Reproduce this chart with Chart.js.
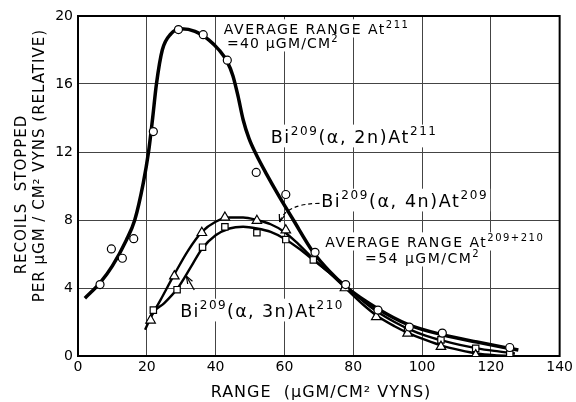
<!DOCTYPE html>
<html>
<head>
<meta charset="utf-8">
<script src="https://cdn.jsdelivr.net/npm/chart.js@4.4.1/dist/chart.umd.min.js"></script>
<style>
  html, body { margin: 0; padding: 0; background: #fff; }
  #c { display: block; }
</style>
</head>
<body>
<canvas id="c" width="576" height="402"></canvas>
<script>
var x2n = [6.4, 9.7, 12.9, 16.2, 21.9, 29.2, 36.4, 43.4, 51.8, 60.4, 68.9, 77.8, 87.2, 96.3, 105.9, 125.5];
var y2n = [4.2, 6.3, 5.75, 6.9, 13.2, 19.2, 18.9, 17.4, 10.8, 9.5, 6.1, 4.2, 2.7, 1.7, 1.35, 0.5];

var x4n = [21.1, 28.0, 36.0, 42.7, 52.0, 60.4, 77.6, 86.7, 95.8, 105.5, 115.6];
var y4n = [2.1, 4.7, 7.25, 8.15, 7.96, 7.4, 4.0, 2.3, 1.33, 0.55, 0.05];

var x3n = [21.9, 28.8, 36.2, 42.7, 52.0, 60.4, 68.4, 77.6, 95.8, 105.5, 115.6, 125.5];
var y3n = [2.7, 3.9, 6.4, 7.6, 7.25, 6.85, 5.65, 4.1, 1.5, 0.95, 0.45, 0.12];

// hand-drawn fitted curves
var cx2n = [2, 6.4, 10, 14, 16.5, 19, 20.5, 21.7, 22.8, 24.5, 27, 30, 34, 38, 41, 43.4, 45, 46.5, 48, 49.7, 51.8, 54.8, 58.3, 62.6, 68.4, 73, 77.7, 87, 96, 106, 116, 128];
var cy2n = [3.4, 4.3, 5.3, 6.8, 8, 10.2, 12, 14, 16, 18, 18.95, 19.25, 19.1, 18.6, 18.0, 17.3, 16.5, 15.3, 13.9, 12.8, 11.85, 10.7, 9.45, 8.0, 6.1, 5.0, 4.1, 2.8, 1.85, 1.25, 0.82, 0.35];

var cx4n = [19.5, 21, 24, 28, 32, 36, 40, 44, 48, 52, 56, 60, 64, 69, 73, 78, 83, 87, 92, 96, 101, 106, 111, 116, 121, 127];
var cy4n = [1.55, 2.2, 3.3, 4.8, 6.2, 7.3, 7.9, 8.15, 8.15, 8.0, 7.75, 7.3, 6.6, 5.6, 4.9, 3.95, 3.0, 2.35, 1.75, 1.35, 0.95, 0.6, 0.35, 0.15, 0.05, 0.0];

var cx3n = [20.3, 22, 25, 29, 33, 36, 40, 44, 48, 52, 56, 60, 64, 69, 74, 78, 83, 87, 92, 96, 101, 106, 111, 116, 121, 127];
var cy3n = [2.0, 2.6, 3.1, 4.0, 5.3, 6.3, 7.1, 7.5, 7.6, 7.5, 7.3, 6.9, 6.35, 5.55, 4.75, 4.1, 3.2, 2.6, 2.0, 1.6, 1.2, 0.9, 0.65, 0.45, 0.3, 0.15];

var xTicks = [0, 20, 40, 60, 80, 100, 120, 140];
var yTicks = [0, 4, 8, 12, 16, 20];

function pts(xs, ys) {
  return xs.map(function (x, i) { return { x: x, y: ys[i] }; });
}

var FONT = '"DejaVu Sans", sans-serif';

function curve(xs, ys, w) {
  return {
    type: 'line',
    data: pts(xs, ys),
    borderColor: '#000',
    borderWidth: w,
    pointRadius: 0,
    fill: false,
    cubicInterpolationMode: 'monotone',
    order: 2
  };
}

function marks(xs, ys, style, r) {
  return {
    type: 'scatter',
    data: pts(xs, ys),
    pointStyle: style,
    pointRadius: r,
    pointBackgroundColor: '#fff',
    pointBorderColor: '#000',
    pointBorderWidth: 1.2,
    showLine: false,
    order: 1
  };
}

// text with superscripts: parts = [[text, isSup], ...]
function rich(ctx, parts, x, y, size, spacing) {
  ctx.letterSpacing = spacing + 'px';
  parts.forEach(function (p) {
    var s = p[1] ? Math.round(size * 0.68) : size;
    ctx.font = s + 'px ' + FONT;
    ctx.fillText(p[0], x, p[1] ? y - size * 0.45 : y);
    x += ctx.measureText(p[0]).width;
  });
  return x;
}

function richWidth(ctx, parts, size, spacing) {
  ctx.letterSpacing = spacing + 'px';
  var w = 0;
  parts.forEach(function (p) {
    var s = p[1] ? Math.round(size * 0.68) : size;
    ctx.font = s + 'px ' + FONT;
    w += ctx.measureText(p[0]).width;
  });
  return w;
}

function arrowHead(ctx, x0, y0, x1, y1, len) {
  var a = Math.atan2(y1 - y0, x1 - x0);
  ctx.beginPath();
  ctx.moveTo(x1, y1);
  ctx.lineTo(x1 - len * Math.cos(a - 0.35), y1 - len * Math.sin(a - 0.35));
  ctx.moveTo(x1, y1);
  ctx.lineTo(x1 - len * Math.cos(a + 0.35), y1 - len * Math.sin(a + 0.35));
  ctx.stroke();
}

var labels = [
  // [x, y, parts, size, spacing]
  [42.4, 18.94, [['AVERAGE RANGE At', 0], ['211', 1]], 14, 1.5],
  [43.3, 18.12, [['=40 μGM/CM', 0], ['2', 1]], 14, 1.2],
  [56.0, 12.53, [['Bi', 0], ['209', 1], ['(α, 2n)At', 0], ['211', 1]], 17.5, 1.6],
  [70.7, 8.76, [['Bi', 0], ['209', 1], ['(α, 4n)At', 0], ['209', 1]], 17.5, 1.6],
  [71.9, 6.41, [['AVERAGE RANGE At', 0], ['209+210', 1]], 14, 1.5],
  [83.4, 5.47, [['=54 μGM/CM', 0], ['2', 1]], 14, 1.5],
  [29.7, 2.29, [['Bi', 0], ['209', 1], ['(α, 3n)At', 0], ['210', 1]], 17.5, 1.4]
];

var notes = {
  id: 'notes',
  beforeDatasetsDraw: function (chart) {
    var ctx = chart.ctx, xs = chart.scales.x, ys = chart.scales.y, a = chart.chartArea;
    ctx.save();
    ctx.textBaseline = 'alphabetic';
    ctx.textAlign = 'left';
    labels.forEach(function (l) {
      var px = xs.getPixelForValue(l[0]), py = ys.getPixelForValue(l[1]);
      var w = richWidth(ctx, l[2], l[3], l[4]);
      ctx.fillStyle = '#fff';
      ctx.fillRect(px - 2, py - l[3] * 1.05, w + 4, l[3] * 1.3);
    });
    ctx.fillStyle = '#000';
    labels.forEach(function (l) {
      rich(ctx, l[2], xs.getPixelForValue(l[0]), ys.getPixelForValue(l[1]), l[3], l[4]);
    });
    ctx.letterSpacing = '0px';

    // frame
    ctx.strokeStyle = '#000';
    ctx.lineWidth = 2;
    ctx.strokeRect(a.left, a.top, a.right - a.left, a.bottom - a.top);
    ctx.restore();
  },
  afterDatasetsDraw: function (chart) {
    var ctx = chart.ctx, xs = chart.scales.x, ys = chart.scales.y;
    function P(x, y) { return [xs.getPixelForValue(x), ys.getPixelForValue(y)]; }
    ctx.save();
    ctx.strokeStyle = '#000';
    ctx.lineWidth = 1.2;
    // dashed pointer for (a,4n)
    var s = P(70.2, 8.98), c = P(60.3, 8.95), e = P(58.6, 7.88);
    ctx.setLineDash([4, 3]);
    ctx.beginPath();
    ctx.moveTo(s[0], s[1]);
    ctx.quadraticCurveTo(c[0], c[1], e[0], e[1]);
    ctx.stroke();
    ctx.setLineDash([]);
    arrowHead(ctx, c[0], c[1], e[0], e[1], 8);
    // pointer for (a,3n)
    var t = P(33.8, 3.88), h = P(31.5, 4.7);
    ctx.beginPath();
    ctx.moveTo(t[0], t[1]);
    ctx.lineTo(h[0], h[1]);
    ctx.stroke();
    arrowHead(ctx, t[0], t[1], h[0], h[1], 8);

    // axis titles
    var a = chart.chartArea;
    ctx.fillStyle = '#000';
    ctx.textAlign = 'center';
    ctx.textBaseline = 'middle';
    ctx.font = '16px ' + FONT;
    ctx.letterSpacing = '1px';
    ctx.fillText('RANGE  (μGM/CM² VYNS)', 321, a.bottom + 37);
    ctx.font = '15px ' + FONT;
    ctx.save();
    ctx.translate(a.left - 56, ys.getPixelForValue(9.5));
    ctx.rotate(-Math.PI / 2);
    ctx.fillText('RECOILS  STOPPED', 0, 0);
    ctx.restore();
    ctx.save();
    ctx.translate(a.left - 38, ys.getPixelForValue(11.2));
    ctx.rotate(-Math.PI / 2);
    ctx.fillText('PER μGM / CM² VYNS (RELATIVE)', 0, 0);
    ctx.restore();
    ctx.restore();
  }
};

new Chart(document.getElementById('c').getContext('2d'), {
  data: {
    datasets: [
      marks(x2n, y2n, 'circle', 4),
      marks(x4n, y4n, 'triangle', 5.5),
      marks(x3n, y3n, 'rect', 4.5),
      curve(cx2n, cy2n, 3.5),
      curve(cx4n, cy4n, 2.4),
      curve(cx3n, cy3n, 2.4)
    ]
  },
  options: {
    responsive: false,
    animation: false,
    layout: { padding: { top: 16, right: 13, left: 0, bottom: 0 } },
    plugins: { legend: { display: false }, tooltip: { enabled: false } },
    scales: {
      x: {
        type: 'linear',
        min: 0, max: 140,
        afterBuildTicks: function (s) { s.ticks = xTicks.map(function (v) { return { value: v }; }); },
        afterFit: function (s) { s.height = 46; },
        ticks: { color: '#000', font: { family: FONT, size: 14 }, padding: 3, maxRotation: 0 },
        grid: { color: '#444', lineWidth: 1, drawTicks: false },
        border: { color: '#000', width: 2 }
      },
      y: {
        min: 0, max: 20,
        afterBuildTicks: function (s) { s.ticks = yTicks.map(function (v) { return { value: v }; }); },
        afterFit: function (s) { s.width = 78; },
        ticks: { color: '#000', font: { family: FONT, size: 14 }, padding: 5 },
        grid: { color: '#444', lineWidth: 1, drawTicks: false },
        border: { color: '#000', width: 2 }
      }
    }
  },
  plugins: [notes]
});
</script>
</body>
</html>
